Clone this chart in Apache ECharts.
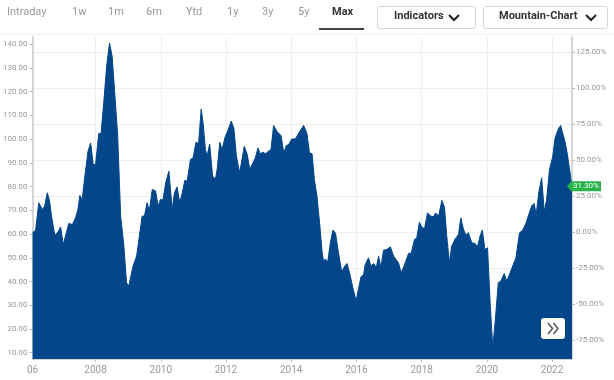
<!DOCTYPE html>
<html>
<head>
<meta charset="utf-8">
<script src="https://cdn.jsdelivr.net/npm/echarts@6/dist/echarts.min.js"></script>
<style>
html,body{margin:0;padding:0;background:#fff;}
#chart{width:614px;height:380px;}
</style>
</head>
<body>
<div id="chart"></div>
<script>
// ---- data (decimal year, price) ----
var dates = [
2006.07,2006.16,2006.26,2006.37,2006.44,2006.52,2006.59,2006.65,2006.75,2006.83,2006.93,
2007.01,2007.08,2007.18,2007.29,2007.39,2007.46,2007.52,2007.59,2007.66,2007.77,2007.85,2007.93,
2008.00,2008.10,2008.17,2008.26,2008.34,2008.43,2008.51,2008.61,2008.68,2008.77,2008.87,2008.95,
2009.02,2009.07,2009.15,2009.26,2009.33,2009.43,2009.50,2009.58,2009.65,2009.74,2009.84,2009.92,2009.99,
2010.07,2010.15,2010.25,2010.35,2010.42,2010.50,2010.58,2010.66,2010.74,2010.81,2010.91,2010.99,
2011.08,2011.16,2011.24,2011.30,2011.37,2011.42,2011.50,2011.59,2011.68,2011.73,2011.81,2011.88,2011.98,
2012.05,2012.16,2012.24,2012.32,2012.42,2012.49,2012.56,2012.65,2012.73,2012.80,2012.90,2012.98,
2013.05,2013.14,2013.21,2013.31,2013.38,2013.46,2013.56,2013.69,2013.77,2013.85,2013.92,
2014.02,2014.13,2014.23,2014.38,2014.48,2014.56,2014.64,2014.71,2014.79,2014.87,2014.95,2014.99,
2015.05,2015.12,2015.20,2015.28,2015.36,2015.45,2015.55,2015.63,2015.71,2015.79,2015.89,2015.99,
2016.07,2016.14,2016.22,2016.27,2016.37,2016.44,2016.53,2016.61,2016.68,2016.75,2016.83,2016.93,
2017.04,2017.14,2017.29,2017.37,2017.46,2017.60,2017.68,2017.78,2017.85,2017.93,
2018.01,2018.09,2018.18,2018.28,2018.36,2018.43,2018.52,2018.62,2018.70,2018.77,2018.85,2018.92,
2019.03,2019.13,2019.20,2019.28,2019.36,2019.43,2019.54,2019.64,2019.71,2019.79,2019.86,2019.94,
2020.02,2020.10,2020.18,2020.26,2020.35,2020.43,2020.53,2020.61,2020.71,2020.79,2020.89,
2021.00,2021.10,2021.20,2021.30,2021.37,2021.45,2021.51,2021.59,2021.68,2021.76,2021.83,2021.92,
2022.02,2022.09,2022.19,2022.26,2022.32,2022.40,2022.47,2022.55,2022.61
];
var prices = [
60.7,61.5,73.2,70.4,71.8,77.4,74.0,67.6,59.6,60.5,63.0,
55.6,59.2,64.5,64.0,67.0,70.4,76.3,74.4,83.0,94.9,98.4,89.3,
89.3,102.4,102.4,116.7,130.7,140.5,134.9,115.3,101.2,67.6,54.9,39.5,
38.1,38.6,46.5,50.7,57.7,67.6,67.6,73.2,70.0,78.8,78.2,71.8,74.6,
74.4,81.6,86.5,70.4,77.4,79.9,73.2,77.4,82.7,82.3,91.4,92.1,
98.7,98.2,112.7,106.6,95.6,92.8,98.0,84.4,83.3,87.4,98.7,95.6,101.2,
103.3,107.6,104.7,92.8,85.8,91.4,97.0,93.6,87.2,89.3,92.1,96.3,
93.9,94.5,93.9,95.0,95.6,105.8,103.3,101.5,94.2,97.3,97.7,
100.1,100.1,102.6,105.8,102.6,94.2,93.9,83.0,76.0,64.7,52.1,48.6,
49.5,48.2,56.3,61.7,60.3,52.1,44.0,46.2,47.6,43.6,37.4,31.8,
37.4,42.0,43.0,47.2,50.0,46.6,47.6,45.9,50.7,45.9,53.2,53.5,
54.6,50.7,47.9,43.7,46.5,51.9,51.9,57.7,58.4,65.0,
62.8,62.4,68.9,67.6,67.3,68.9,67.6,74.2,71.3,59.1,47.9,54.9,
58.0,59.8,66.8,62.1,59.5,60.6,56.3,56.0,54.6,59.1,61.7,53.5,
54.2,31.1,12.1,24.1,39.5,40.2,43.4,40.2,43.6,46.5,50.0,
60.5,61.7,64.7,68.9,71.8,72.9,68.2,77.4,83.7,69.5,74.4,87.2,
92.8,100.5,104.3,105.8,106.6,98.7,93.5,85.8,79.7
];
var basePrice = 60.7;               // price that maps to 0.00 %
var leftTicks = [10,20,30,40,50,60,70,80,90,100,110,120,130,140];
var rightTicks = [-75,-50,-25,0,25,50,75,100,125];
var yearTicks = [2008,2010,2012,2014,2016,2018,2020,2022];
var rangeButtons = ['Intraday','1w','1m','6m','Ytd','1y','3y','5y','Max'];

// ---- build ----
var priceMin = 7.35, priceMax = 143.07;
var xMin = 2006.07, xMax = 2022.61;
var pct = function (p) { return (p / basePrice - 1) * 100; };
var seriesData = dates.map(function (d, i) { return [d, prices[i]]; });
var lastDate = dates[dates.length - 1], lastPrice = prices[prices.length - 1];
var lastPctText = pct(lastPrice).toFixed(2) + '%';
var FONT = 'Roboto, "Open Sans", sans-serif';
var BLUE = '#03478a';

var btnX = [7, 72, 108, 146, 186, 227, 262, 298, 332];
var graphics = [];
rangeButtons.forEach(function (t, i) {
  var active = t === 'Max';
  graphics.push({
    type: 'text', left: btnX[i], top: 7,
    style: { text: t, font: (active ? 'bold ' : '') + '11px ' + FONT, fill: active ? '#333' : '#9a9a9a' }
  });
});
graphics.push({ type: 'rect', shape: { x: 319, y: 28, width: 45, height: 2 }, style: { fill: '#444' } });
graphics.push({ type: 'rect', shape: { x: 0, y: 34, width: 614, height: 1 }, style: { fill: '#f0f0f0' } });
// dropdown buttons
graphics.push({ type: 'rect', shape: { x: 377.5, y: 6.5, width: 98, height: 22, r: 2 }, style: { fill: '#fff', stroke: '#d6d6d6', lineWidth: 1 } });
graphics.push({ type: 'text', left: 394, top: 11, style: { text: 'Indicators', font: 'bold 11px ' + FONT, fill: '#333' } });
graphics.push({ type: 'polyline', shape: { points: [[449, 15], [454, 20], [459, 15]] }, style: { stroke: '#222', lineWidth: 2, fill: null } });
graphics.push({ type: 'rect', shape: { x: 483.5, y: 6.5, width: 124, height: 22, r: 2 }, style: { fill: '#fff', stroke: '#d6d6d6', lineWidth: 1 } });
graphics.push({ type: 'text', left: 499, top: 11, style: { text: 'Mountain-Chart', font: 'bold 11px ' + FONT, fill: '#333' } });
graphics.push({ type: 'polyline', shape: { points: [[586, 15], [591, 20], [596, 15]] }, style: { stroke: '#222', lineWidth: 2, fill: null } });
// ">>" button
graphics.push({ type: 'rect', z: 100, shape: { x: 541, y: 318, width: 24, height: 21, r: 3 }, style: { fill: '#fff', shadowBlur: 2, shadowColor: 'rgba(0,0,0,0.2)' } });
graphics.push({ type: 'polyline', z: 101, shape: { points: [[548, 323], [552.5, 328.5], [548, 334]] }, style: { stroke: '#555', lineWidth: 1.5, fill: null } });
graphics.push({ type: 'polyline', z: 101, shape: { points: [[553.5, 323], [558, 328.5], [553.5, 334]] }, style: { stroke: '#555', lineWidth: 1.5, fill: null } });

var chart = echarts.init(document.getElementById('chart'), null, { renderer: 'canvas' });
chart.setOption({
  animation: false,
  backgroundColor: '#fff',
  grid: { left: 32, right: 42, top: 37, bottom: 21 },
  xAxis: {
    type: 'value', min: xMin, max: xMax,
    axisLine: { show: true, onZero: false, lineStyle: { color: '#c8c8c8', width: 1.5 } },
    axisTick: { show: true, length: 3, customValues: yearTicks, lineStyle: { color: '#bbb' } },
    axisLabel: {
      customValues: [xMin].concat(yearTicks), margin: 6,
      formatter: function (v) { return v < 2007 ? '06' : String(Math.round(v)); },
      color: '#999', fontSize: 10, fontFamily: FONT
    },
    splitLine: { show: true, lineStyle: { color: '#eeeeee' } }
  },
  yAxis: [{
    type: 'value', position: 'left', min: priceMin, max: priceMax,
    axisLine: { show: true, onZero: false, lineStyle: { color: '#c8c8c8', width: 1.5 } },
    axisTick: { show: true, length: 3, customValues: leftTicks, lineStyle: { color: '#bbb' } },
    axisLabel: { customValues: leftTicks, formatter: function (v) { return v.toFixed(2); }, color: '#999', fontSize: 8, fontFamily: FONT, margin: 5 },
    splitLine: { show: false }
  }, {
    type: 'value', position: 'right', min: pct(priceMin), max: pct(priceMax),
    axisLine: { show: true, onZero: false, lineStyle: { color: '#c8c8c8', width: 1.5 } },
    axisTick: { show: true, length: 3, customValues: rightTicks, lineStyle: { color: '#bbb' } },
    axisLabel: { customValues: rightTicks, formatter: function (v) { return v.toFixed(2) + '%'; }, color: '#999', fontSize: 8, fontFamily: FONT, margin: 4 },
    splitLine: { show: true, lineStyle: { color: '#eeeeee' } }
  }],
  series: [{
    type: 'line', yAxisIndex: 0, data: seriesData, showSymbol: false, z: 3,
    lineStyle: { color: BLUE, width: 1 },
    itemStyle: { color: BLUE },
    areaStyle: { color: BLUE, opacity: 1, origin: 'start' },
    markPoint: {
      silent: true,
      symbol: 'path://M0,5 L5,0 L40,0 L40,10 L5,10 Z',
      symbolSize: [34, 10], symbolOffset: [12, -1],
      itemStyle: { color: '#27b24a' },
      label: { show: true, position: 'inside', offset: [2, 0], color: '#fff', fontSize: 8, fontFamily: FONT, formatter: lastPctText },
      data: [{ coord: [lastDate, lastPrice] }]
    }
  }],
  graphic: graphics
});
</script>
</body>
</html>
